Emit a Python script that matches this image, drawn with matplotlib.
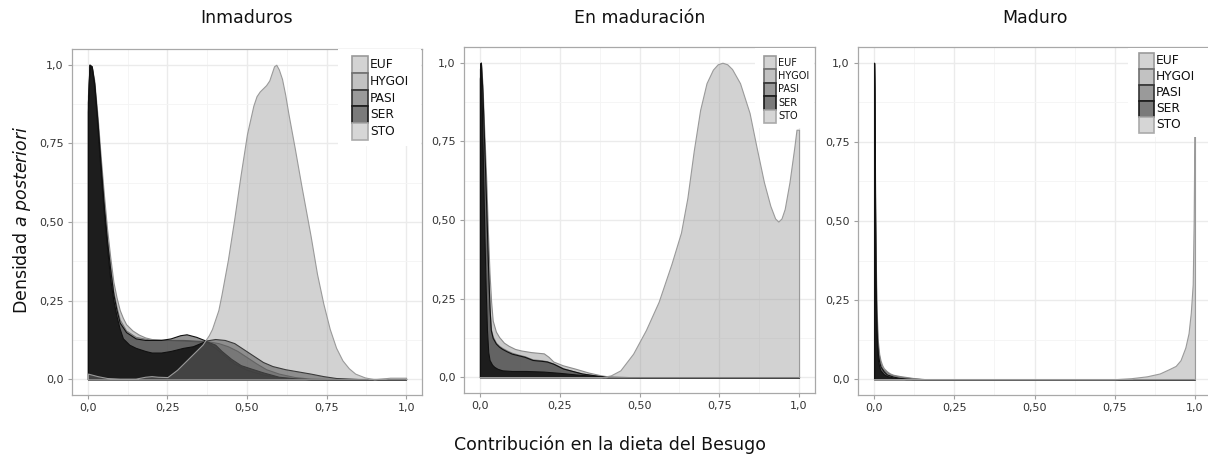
import matplotlib
matplotlib.use("Agg")
import matplotlib.pyplot as plt
from matplotlib.patches import Rectangle

# ---- data: scaled posterior densities ----
series = ["EUF", "HYGOI", "PASI", "SER", "STO"]
titles = ["Inmaduros", "En maduración", "Maduro"]
tick_vals = [0, 0.25, 0.5, 0.75, 1.0]
tick_labels = ["0,0", "0,25", "0,50", "0,75", "1,0"]

# Inmaduros
p1_euf_x = [0, 0.005, 0.012, 0.02, 0.03, 0.04, 0.05, 0.06, 0.07, 0.08, 0.09, 0.1, 0.11, 0.12, 0.14, 0.16,
            0.18, 0.2, 0.25, 0.3, 0.35, 0.37, 0.4, 0.43, 0.46, 0.5, 0.55, 0.6, 0.65, 0.7, 1.0]
p1_euf_y = [0.9, 1.0, 0.995, 0.95, 0.84, 0.71, 0.59, 0.48, 0.39, 0.31, 0.26, 0.22, 0.195, 0.175, 0.155, 0.142,
            0.133, 0.128, 0.125, 0.123, 0.12, 0.12, 0.1, 0.075, 0.05, 0.03, 0.015, 0.006, 0.002, 0.0, 0.0]
p1_hygoi_x = [0, 0.005, 0.012, 0.02, 0.03, 0.04, 0.05, 0.06, 0.07, 0.08, 0.09, 0.1, 0.12, 0.15, 0.2, 0.25,
              0.3, 0.35, 0.38, 0.41, 0.44, 0.47, 0.5, 0.53, 0.56, 0.6, 0.65, 0.7, 0.8, 1.0]
p1_hygoi_y = [0.88, 1.0, 0.995, 0.94, 0.82, 0.69, 0.56, 0.45, 0.36, 0.28, 0.23, 0.19, 0.155, 0.135, 0.125, 0.125,
              0.125, 0.122, 0.12, 0.115, 0.105, 0.09, 0.07, 0.05, 0.032, 0.018, 0.007, 0.002, 0.0, 0.0]
p1_pasi_x = [0, 0.005, 0.012, 0.02, 0.03, 0.04, 0.05, 0.06, 0.07, 0.08, 0.09, 0.1, 0.12, 0.15, 0.18, 0.2,
             0.23, 0.26, 0.29, 0.31, 0.34, 0.37, 0.4, 0.43, 0.46, 0.49, 0.52, 0.55, 0.58, 0.62, 0.66, 0.7,
             0.74, 0.78, 0.85, 1.0]
p1_pasi_y = [0.88, 1.0, 0.995, 0.94, 0.82, 0.68, 0.55, 0.44, 0.35, 0.27, 0.22, 0.18, 0.15, 0.13, 0.125, 0.125,
             0.125, 0.13, 0.14, 0.143, 0.135, 0.123, 0.128, 0.125, 0.115, 0.095, 0.075, 0.055, 0.042, 0.032,
             0.025, 0.018, 0.01, 0.004, 0.001, 0.001]
p1_ser_x = [0, 0.005, 0.012, 0.02, 0.03, 0.04, 0.05, 0.06, 0.07, 0.08, 0.09, 0.1, 0.11, 0.13, 0.15, 0.18,
            0.2, 0.23, 0.26, 0.3, 0.33, 0.37, 0.4, 0.42, 0.45, 0.48, 0.51, 0.55, 0.6, 0.65, 0.7, 0.75, 1.0]
p1_ser_y = [0.85, 1.0, 0.99, 0.93, 0.8, 0.66, 0.53, 0.42, 0.32, 0.25, 0.2, 0.16, 0.13, 0.11, 0.1, 0.09,
            0.085, 0.085, 0.09, 0.1, 0.105, 0.122, 0.11, 0.09, 0.065, 0.045, 0.035, 0.022, 0.008, 0.003, 0.0,
            0.0, 0.0]
p1_sto_x = [0, 0.03, 0.06, 0.1, 0.15, 0.18, 0.2, 0.22, 0.25, 0.28, 0.3, 0.32, 0.34, 0.36, 0.37, 0.38, 0.39,
            0.4, 0.41, 0.42, 0.44, 0.46, 0.48, 0.5, 0.52, 0.53, 0.54, 0.55, 0.56, 0.57, 0.58, 0.585, 0.592,
            0.6, 0.61, 0.62, 0.63, 0.65, 0.67, 0.7, 0.72, 0.74, 0.76, 0.78, 0.8, 0.82, 0.84, 0.87, 0.9, 0.95,
            1.0]
p1_sto_y = [0.018, 0.01, 0.004, 0.002, 0.002, 0.008, 0.01, 0.008, 0.007, 0.03, 0.05, 0.07, 0.09, 0.11, 0.125,
            0.14, 0.16, 0.19, 0.22, 0.27, 0.38, 0.51, 0.65, 0.78, 0.87, 0.9, 0.915, 0.925, 0.935, 0.95, 0.98,
            0.995, 1.0, 0.985, 0.955, 0.905, 0.845, 0.735, 0.62, 0.455, 0.335, 0.24, 0.16, 0.1, 0.06, 0.035,
            0.018, 0.006, 0.0, 0.005, 0.005]

# En maduración
p2_euf_x = [0, 0.003, 0.008, 0.012, 0.016, 0.02, 0.025, 0.03, 0.035, 0.04, 0.05, 0.06, 0.075, 0.09, 0.11,
            0.13, 0.16, 0.2, 0.215, 0.23, 0.26, 0.3, 0.34, 0.38, 0.42, 1.0]
p2_euf_y = [0.95, 1.0, 0.93, 0.82, 0.72, 0.62, 0.46, 0.33, 0.24, 0.18, 0.145, 0.128, 0.11, 0.1, 0.09,
            0.085, 0.08, 0.076, 0.065, 0.05, 0.038, 0.027, 0.015, 0.006, 0.0, 0.0]
p2_hygoi_x = [0, 0.003, 0.008, 0.012, 0.016, 0.02, 0.025, 0.03, 0.034, 0.04, 0.05, 0.06, 0.07, 0.085, 0.1,
              0.12, 0.14, 0.165, 0.195, 0.21, 0.23, 0.26, 0.29, 0.32, 0.36, 0.4, 1.0]
p2_hygoi_y = [0.95, 1.0, 0.9, 0.78, 0.66, 0.53, 0.36, 0.225, 0.155, 0.13, 0.11, 0.1, 0.093, 0.085, 0.078,
              0.072, 0.067, 0.057, 0.054, 0.051, 0.044, 0.029, 0.02, 0.012, 0.006, 0.0, 0.0]
p2_pasi_x = [0, 0.003, 0.008, 0.012, 0.016, 0.02, 0.025, 0.03, 0.034, 0.04, 0.05, 0.06, 0.07, 0.085, 0.1,
             0.12, 0.14, 0.165, 0.195, 0.21, 0.23, 0.26, 0.29, 0.32, 0.36, 0.4, 1.0]
p2_pasi_y = [0.95, 1.0, 0.9, 0.78, 0.66, 0.53, 0.36, 0.22, 0.15, 0.125, 0.107, 0.097, 0.09, 0.082, 0.075,
             0.07, 0.065, 0.055, 0.052, 0.05, 0.043, 0.028, 0.02, 0.012, 0.006, 0.0, 0.0]
p2_ser_x = [0, 0.002, 0.006, 0.01, 0.014, 0.018, 0.022, 0.026, 0.03, 0.038, 0.045, 0.055, 0.07, 0.1, 0.145,
            0.2, 0.25, 0.3, 0.35, 0.4, 0.5, 1.0]
p2_ser_y = [0.98, 1.0, 0.85, 0.65, 0.45, 0.28, 0.15, 0.08, 0.055, 0.04, 0.033, 0.027, 0.022, 0.02, 0.02,
            0.018, 0.014, 0.009, 0.005, 0.002, 0.0, 0.0]
p2_sto_x = [0, 0.38, 0.41, 0.44, 0.48, 0.52, 0.56, 0.6, 0.63, 0.65, 0.67, 0.69, 0.71, 0.73, 0.745, 0.76,
            0.775, 0.79, 0.815, 0.845, 0.865, 0.89, 0.91, 0.925, 0.935, 0.945, 0.955, 0.97, 0.985, 0.992, 1.0]
p2_sto_y = [0, 0, 0.006, 0.022, 0.075, 0.15, 0.24, 0.36, 0.46, 0.57, 0.72, 0.85, 0.935, 0.978, 0.995, 1.0,
            0.995, 0.98, 0.935, 0.84, 0.74, 0.62, 0.545, 0.505, 0.495, 0.505, 0.535, 0.62, 0.73, 0.787, 0.787]

# Maduro
p3_euf_x = [0, 0.001, 0.003, 0.005, 0.008, 0.012, 0.016, 0.02, 0.025, 0.03, 0.04, 0.05, 0.06, 0.08, 0.1,
            0.12, 0.14, 0.16, 1.0]
p3_euf_y = [1.0, 0.95, 0.65, 0.4, 0.22, 0.12, 0.08, 0.06, 0.045, 0.035, 0.025, 0.018, 0.014, 0.01, 0.007,
            0.004, 0.002, 0.0, 0.0]
p3_hygoi_x = [0, 0.001, 0.003, 0.005, 0.008, 0.012, 0.016, 0.02, 0.025, 0.03, 0.04, 0.05, 0.06, 0.08, 0.1,
              0.12, 0.15, 1.0]
p3_hygoi_y = [1.0, 0.93, 0.6, 0.35, 0.18, 0.1, 0.07, 0.05, 0.035, 0.03, 0.022, 0.015, 0.012, 0.008, 0.005,
              0.003, 0.0, 0.0]
p3_pasi_x = [0, 0.001, 0.003, 0.005, 0.008, 0.012, 0.016, 0.02, 0.03, 0.04, 0.06, 0.08, 0.1, 0.12, 1.0]
p3_pasi_y = [1.0, 0.92, 0.55, 0.3, 0.15, 0.08, 0.055, 0.04, 0.025, 0.015, 0.008, 0.004, 0.002, 0.0, 0.0]
p3_ser_x = [0, 0.001, 0.003, 0.005, 0.008, 0.012, 0.016, 0.02, 0.03, 0.04, 0.06, 0.08, 0.1, 1.0]
p3_ser_y = [1.0, 0.9, 0.5, 0.25, 0.12, 0.06, 0.04, 0.028, 0.016, 0.01, 0.005, 0.002, 0.0, 0.0]
p3_sto_x = [0, 0.75, 0.8, 0.85, 0.89, 0.92, 0.94, 0.955, 0.97, 0.98, 0.987, 0.993, 0.996, 0.998, 1.0]
p3_sto_y = [0, 0, 0.003, 0.009, 0.018, 0.032, 0.042, 0.06, 0.1, 0.145, 0.21, 0.3, 0.5, 0.76, 1.0]

panel_data = [
    [(p1_euf_x, p1_euf_y), (p1_hygoi_x, p1_hygoi_y), (p1_pasi_x, p1_pasi_y), (p1_ser_x, p1_ser_y), (p1_sto_x, p1_sto_y)],
    [(p2_euf_x, p2_euf_y), (p2_hygoi_x, p2_hygoi_y), (p2_pasi_x, p2_pasi_y), (p2_ser_x, p2_ser_y), (p2_sto_x, p2_sto_y)],
    [(p3_euf_x, p3_euf_y), (p3_hygoi_x, p3_hygoi_y), (p3_pasi_x, p3_pasi_y), (p3_ser_x, p3_ser_y), (p3_sto_x, p3_sto_y)],
]

# fill grey level, alpha, outline colour (drawn in this order, blended like the original)
fill_grey = [150, 120, 40, 0, 134]
fill_alpha = [0.5, 0.5, 0.5, 0.7, 0.364]
edge_col = ["#8c8c8c", "#7a7a7a", "#111111", "#111111", "#9a9a9a"]
# legend key colours
key_face = ["#d3d3d3", "#c2c2c2", "#9a9a9a", "#7a7a7a", "#d6d6d6"]
key_edge = ["#9a9a9a", "#6e6e6e", "#333333", "#1a1a1a", "#aaaaaa"]

W, H = 1208, 462
fig = plt.figure(figsize=(W / 100, H / 100), dpi=100)


def box(x0, y0, x1, y1):
    # pixel box (origin top-left) -> figure fraction [l, b, w, h]
    return [x0 / W, 1 - y1 / H, (x1 - x0) / W, (y1 - y0) / H]


axes_px = [(72, 49, 422, 395), (464, 47, 815, 393), (858, 47, 1211, 395)]
legend_px = [
    # key x, first row top, key width, row height, font size, background box
    (352, 56, 16, 16.8, 8.8, (338, 49, 421, 146)),
    (764, 56, 12, 13.4, 7, (755, 48, 814, 128)),
    (1139, 53, 15, 16, 8.8, (1128, 48, 1208, 137)),
]

for p, (bx, data) in enumerate(zip(axes_px, panel_data)):
    ax = fig.add_axes(box(*bx))
    ax.set_xlim(-0.05, 1.05)
    ax.set_ylim(-0.05, 1.05)
    ax.set_axisbelow(True)
    ax.set_xticks(tick_vals)
    ax.set_xticklabels(tick_labels)
    ax.set_yticks(tick_vals)
    ax.set_yticklabels(tick_labels)
    ax.set_xticks([0.125, 0.375, 0.625, 0.875], minor=True)
    ax.set_yticks([0.125, 0.375, 0.625, 0.875], minor=True)
    ax.grid(True, which="major", color="#ebebeb", linewidth=1.0)
    ax.grid(True, which="minor", color="#f4f4f4", linewidth=0.6)
    ax.tick_params(which="major", length=3, width=0.8, color="#a0a0a0", labelsize=8,
                   labelcolor="#333333", pad=3)
    ax.tick_params(which="minor", length=0)
    for s in ax.spines.values():
        s.set_color("#a8a8a8")
        s.set_linewidth(0.9)

    for i, (x, y) in enumerate(data):
        g = fill_grey[i] / 255
        ax.fill_between(x, y, 0, facecolor=(g, g, g, fill_alpha[i]), edgecolor=edge_col[i],
                        linewidth=0.8, zorder=2 + i)

    # panel title
    fig.text((bx[0] + bx[2]) / 2 / W, 1 - 18 / H, titles[p], ha="center", va="center",
             fontsize=12.5, color="#111111")

    # legend drawn by hand, like the ggplot keys
    kx, ky, kw, rh, fs, bg = legend_px[p]
    fig.add_artist(Rectangle((bg[0] / W, 1 - bg[3] / H), (bg[2] - bg[0]) / W, (bg[3] - bg[1]) / H,
                             transform=fig.transFigure, facecolor="white", edgecolor="none", zorder=10))
    for i, name in enumerate(series):
        top = ky + i * rh
        fig.add_artist(Rectangle((kx / W, 1 - (top + rh) / H), kw / W, rh / H, transform=fig.transFigure,
                                 facecolor=key_face[i], edgecolor=key_edge[i], linewidth=1.2, zorder=11))
        fig.text((kx + kw + 2) / W, 1 - (top + rh / 2) / H, name, ha="left", va="center",
                 fontsize=fs, color="#111111", zorder=12)

fig.text(22 / W, 1 - 220 / H, r"Densidad $\mathit{a\ posteriori}$", rotation=90, ha="center",
         va="center", fontsize=12.5, color="#111111")
fig.text(610 / W, 1 - 445 / H, "Contribución en la dieta del Besugo", ha="center", va="center",
         fontsize=12.5, color="#111111")

fig.savefig("out.png", dpi=100, facecolor="white")
